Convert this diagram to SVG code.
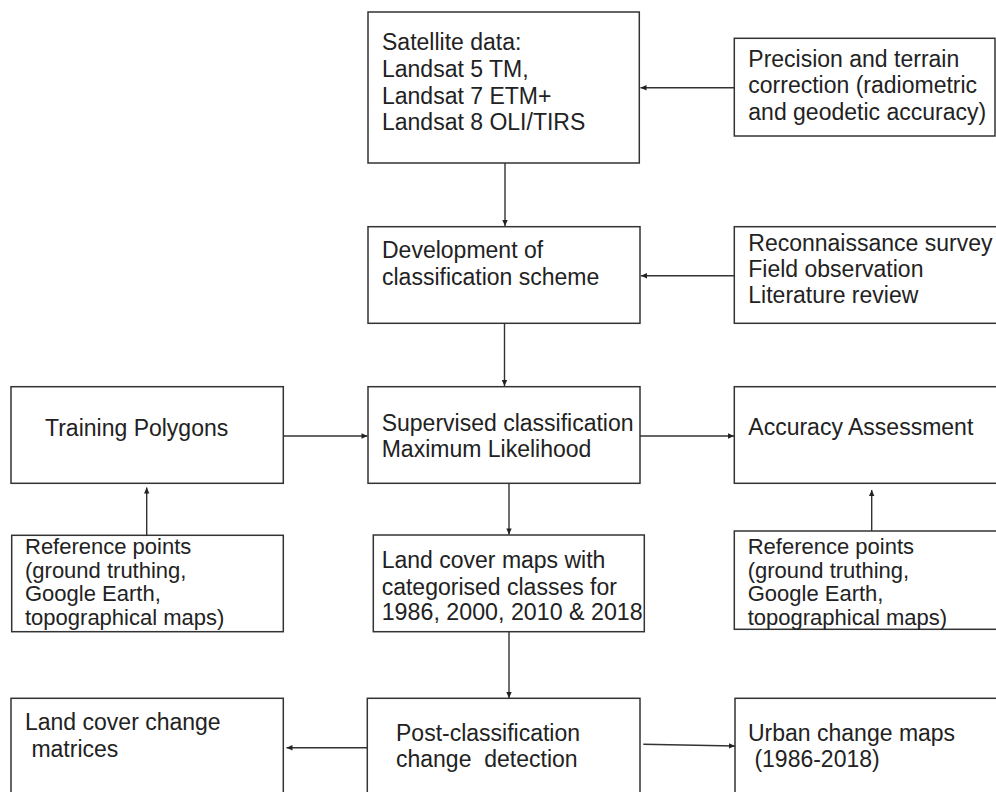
<svg xmlns="http://www.w3.org/2000/svg" width="996" height="792" viewBox="0 0 996 792">
<style>
.box{fill:#fff;stroke:#333;stroke-width:1.5}
.t{font-family:"Liberation Sans",Arial,sans-serif;font-size:23px;fill:#222}
.s{font-size:22px}
.c{fill:none;stroke:#333;stroke-width:1.4}
</style>
<defs>
<marker id="ah" viewBox="0 0 10 10" refX="10" refY="5" markerWidth="7" markerHeight="6" markerUnits="userSpaceOnUse" orient="auto">
<path d="M0,0.5 L10,5 L0,9.5 z" fill="#222"/>
</marker>
</defs>
<rect width="996" height="792" fill="#fff"/>
<g id="satellite">
<rect class="box" x="368" y="12" width="271.3" height="151"/>
<text class="t"><tspan x="382" y="50">Satellite data:</tspan><tspan x="382" y="77">Landsat 5 TM,</tspan><tspan x="382" y="103.5">Landsat 7 ETM+</tspan><tspan x="382" y="130">Landsat 8 OLI/TIRS</tspan></text>
</g>
<g id="precision">
<rect class="box" x="734.3" y="38.3" width="260.7" height="97.7"/>
<text class="t"><tspan x="748.3" y="66.5">Precision and terrain</tspan><tspan x="748.3" y="93">correction (radiometric</tspan><tspan x="748.3" y="119.5">and geodetic accuracy)</tspan></text>
</g>
<g id="development">
<rect class="box" x="368" y="226.7" width="272" height="96.6"/>
<text class="t"><tspan x="382" y="258">Development of</tspan><tspan x="382" y="285">classification scheme</tspan></text>
</g>
<g id="reconnaissance">
<rect class="box" x="734.3" y="226.7" width="270" height="96.6"/>
<text class="t"><tspan x="748.3" y="250.7">Reconnaissance survey</tspan><tspan x="748.3" y="277.3">Field observation</tspan><tspan x="748.3" y="303.3">Literature review</tspan></text>
</g>
<g id="training">
<rect class="box" x="11" y="386.7" width="272.3" height="96.6"/>
<text class="t" x="45" y="436">Training Polygons</text>
</g>
<g id="supervised">
<rect class="box" x="368" y="386.7" width="272" height="96.6"/>
<text class="t"><tspan x="381.7" y="431">Supervised classification</tspan><tspan x="381.7" y="457.3">Maximum Likelihood</tspan></text>
</g>
<g id="accuracy">
<rect class="box" x="734.3" y="386.7" width="270" height="96.6"/>
<text class="t" x="748.3" y="435">Accuracy Assessment</text>
</g>
<g id="reference-left">
<rect class="box" x="11.7" y="535.3" width="271.6" height="96.4"/>
<text class="t s"><tspan x="25" y="554">Reference points</tspan><tspan x="25" y="577.5">(ground truthing,</tspan><tspan x="25" y="601">Google Earth,</tspan><tspan x="25" y="624.5">topographical maps)</tspan></text>
</g>
<g id="landcover-maps">
<rect class="box" x="373.3" y="535" width="271" height="96.7"/>
<text class="t"><tspan x="381.7" y="568.3">Land cover maps with</tspan><tspan x="381.7" y="595">categorised classes for</tspan><tspan x="381.7" y="620" textLength="261" lengthAdjust="spacingAndGlyphs">1986, 2000, 2010 &amp; 2018</tspan></text>
</g>
<g id="reference-right">
<rect class="box" x="734.3" y="531" width="270" height="98.3"/>
<text class="t s"><tspan x="747.7" y="554">Reference points</tspan><tspan x="747.7" y="577.5">(ground truthing,</tspan><tspan x="747.7" y="601">Google Earth,</tspan><tspan x="747.7" y="624.5">topographical maps)</tspan></text>
</g>
<g id="change-matrices">
<rect class="box" x="11" y="698.3" width="272.3" height="110"/>
<text class="t" xml:space="preserve"><tspan x="25" y="730">Land cover change</tspan><tspan x="25" y="756.7"> matrices</tspan></text>
</g>
<g id="post-classification">
<rect class="box" x="367.3" y="698.3" width="272.7" height="110"/>
<text class="t" xml:space="preserve"><tspan x="396" y="740.7">Post-classification</tspan><tspan x="396" y="766.7">change  detection</tspan></text>
</g>
<g id="urban-change">
<rect class="box" x="735" y="698.3" width="270" height="110"/>
<text class="t" xml:space="preserve"><tspan x="748" y="740.7">Urban change maps</tspan><tspan x="748" y="766.7"> (1986-2018)</tspan></text>
</g>
<g id="connectors">
<path class="c" marker-end="url(#ah)" d="M734.3,87.7 L640.5,87.7"/>
<path class="c" marker-end="url(#ah)" d="M505,163 L505,226"/>
<path class="c" marker-end="url(#ah)" d="M734.3,275.7 L641,275.7"/>
<path class="c" marker-end="url(#ah)" d="M504.5,323.3 L504.5,386"/>
<path class="c" marker-end="url(#ah)" d="M283.3,436 L367.5,436"/>
<path class="c" marker-end="url(#ah)" d="M640,436 L734,436"/>
<path class="c" marker-end="url(#ah)" d="M146.7,535.3 L146.7,487.5"/>
<path class="c" marker-end="url(#ah)" d="M871.7,531 L871.7,490"/>
<path class="c" marker-end="url(#ah)" d="M509,483.3 L509,534.5"/>
<path class="c" marker-end="url(#ah)" d="M509,631.7 L509,698"/>
<path class="c" marker-end="url(#ah)" d="M367.3,747.7 L286.5,747.7"/>
<path class="c" marker-end="url(#ah)" d="M643.3,744.3 L735,746"/>
</g>
</svg>
